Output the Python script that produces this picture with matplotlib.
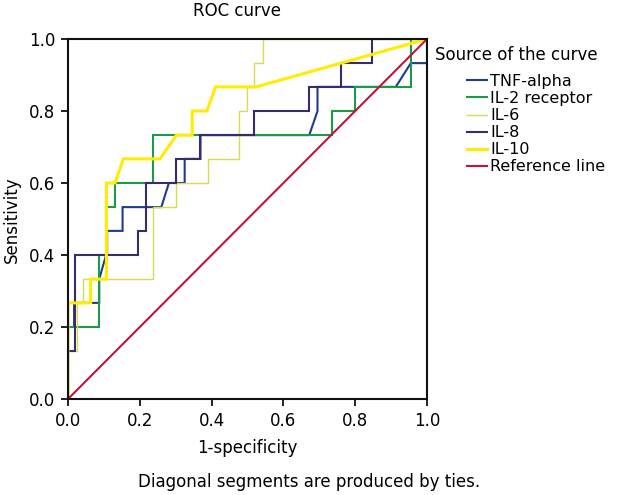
import matplotlib
matplotlib.use("Agg")
import matplotlib.pyplot as plt

# ROC curves (1-specificity, sensitivity)
tnf_x = [0, 0, 0.017, 0.017, 0.087, 0.087, 0.106, 0.109, 0.109, 0.152, 0.152, 0.26, 0.281, 0.325,
         0.325, 0.369, 0.369, 0.672, 0.695, 0.695, 0.913, 0.955, 1.0, 1.0]
tnf_y = [0, 0.2, 0.2, 0.267, 0.267, 0.333, 0.4, 0.4, 0.467, 0.467, 0.533, 0.533, 0.6, 0.6,
         0.667, 0.667, 0.733, 0.733, 0.8, 0.867, 0.867, 0.933, 0.933, 1.0]

il2_x = [0, 0, 0.087, 0.087, 0.107, 0.107, 0.131, 0.131, 0.237, 0.237, 0.735, 0.735, 0.8, 0.8,
         0.955, 0.955, 1.0]
il2_y = [0, 0.2, 0.2, 0.4, 0.4, 0.533, 0.533, 0.6, 0.6, 0.733, 0.733, 0.8, 0.8, 0.867,
         0.867, 1.0, 1.0]

il6_x = [0, 0, 0.024, 0.024, 0.043, 0.043, 0.237, 0.237, 0.302, 0.302, 0.39, 0.39, 0.476, 0.476,
         0.498, 0.498, 0.519, 0.519, 0.543, 0.543, 1.0]
il6_y = [0, 0.133, 0.133, 0.267, 0.267, 0.333, 0.333, 0.533, 0.533, 0.6, 0.6, 0.667, 0.667, 0.8,
         0.8, 0.867, 0.867, 0.933, 0.933, 1.0, 1.0]

il8_x = [0, 0, 0.019, 0.019, 0.195, 0.195, 0.216, 0.216, 0.302, 0.302, 0.369, 0.369, 0.519, 0.519,
         0.672, 0.672, 0.76, 0.76, 0.848, 0.848, 1.0]
il8_y = [0, 0.133, 0.133, 0.4, 0.4, 0.467, 0.467, 0.6, 0.6, 0.667, 0.667, 0.733, 0.733, 0.8,
         0.8, 0.867, 0.867, 0.933, 0.933, 1.0, 1.0]

il10_x = [0, 0, 0.063, 0.063, 0.107, 0.107, 0.131, 0.154, 0.256, 0.302, 0.346, 0.346, 0.387, 0.411,
          0.524, 1.0]
il10_y = [0, 0.267, 0.267, 0.333, 0.333, 0.6, 0.6, 0.667, 0.667, 0.733, 0.733, 0.8, 0.8, 0.867,
          0.867, 1.0]

ref_x = [0, 1]
ref_y = [0, 1]

curves = [
    ("TNF-alpha", tnf_x, tnf_y, "#1c3c8c", 1.5),
    ("IL-2 receptor", il2_x, il2_y, "#1d9a46", 1.5),
    ("IL-6", il6_x, il6_y, "#d6da55", 1.0),
    ("IL-8", il8_x, il8_y, "#3a2a6a", 1.5),
    ("IL-10", il10_x, il10_y, "#ffec00", 2.2),
    ("Reference line", ref_x, ref_y, "#c0143c", 1.5),
]

plt.rcParams['font.family'] = ['DejaVu Sans']
plt.rcParams['font.size'] = 12

W, H = 618, 495
fig = plt.figure(figsize=(W / 100, H / 100), dpi=100)
ax = fig.add_axes([68 / W, 1 - 399 / H, 359 / W, 360 / H])

for name, xs, ys, col, lw in curves:
    ax.plot(xs, ys, color=col, lw=lw, label=name, solid_joinstyle='miter')

ax.set_xlim(0, 1)
ax.set_ylim(0, 1)
ticks = [0.0, 0.2, 0.4, 0.6, 0.8, 1.0]
ax.set_xticks(ticks)
ax.set_yticks(ticks)
ax.set_xticklabels([f"{t:.1f}" for t in ticks])
ax.set_yticklabels([f"{t:.1f}" for t in ticks])
ax.tick_params(direction='out', length=5, width=1.3, color='#101010', pad=4, labelsize=12)
for sp in ax.spines.values():
    sp.set_linewidth(1.5)
    sp.set_color('#101010')

fig.text(237 / W, 1 - 11 / H, "ROC curve", ha='center', va='center', fontsize=12)
fig.text(247 / W, 1 - 448 / H, "1-specificity", ha='center', va='center', fontsize=12)
fig.text(12 / W, 1 - 220 / H, "Sensitivity", ha='center', va='center', rotation=90, fontsize=12)
fig.text(309 / W, 1 - 482 / H, "Diagonal segments are produced by ties.",
         ha='center', va='center', fontsize=12)

# legend: title on its own, entries indented below it
fig.text(435 / W, 1 - 55 / H, "Source of the curve", ha='left', va='center', fontsize=12)
ax.legend(loc='upper left', bbox_to_anchor=(467 / W, 1 - 74 / H), bbox_transform=fig.transFigure,
          frameon=False, fontsize=11.5, borderpad=0, borderaxespad=0, handlelength=1.25,
          handletextpad=0.2, labelspacing=0.13)

fig.savefig("out.png", dpi=100)
